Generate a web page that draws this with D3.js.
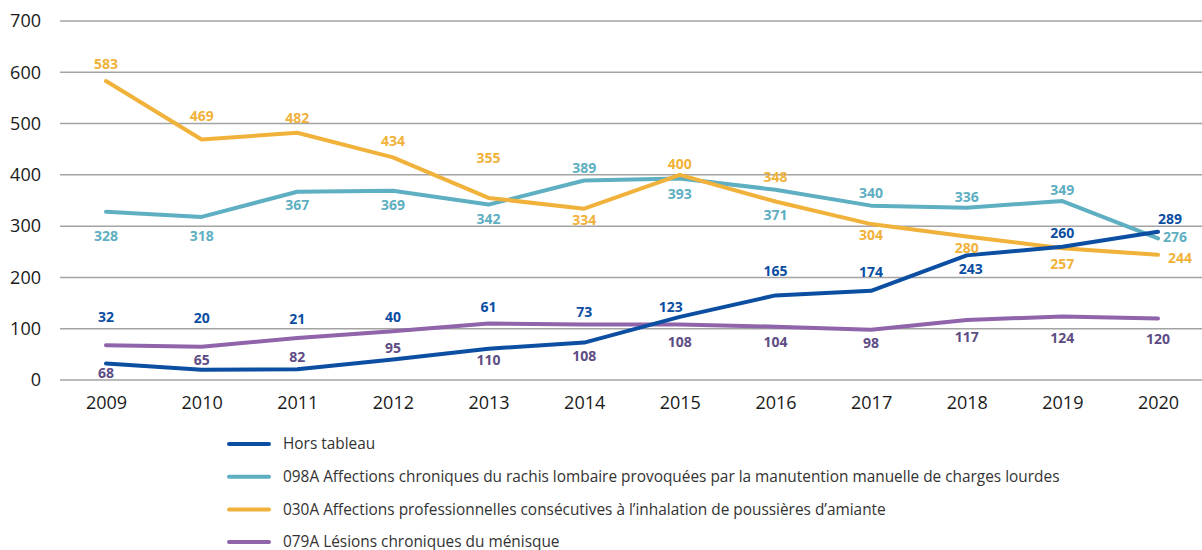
<!DOCTYPE html>
<html>
<head>
<meta charset="utf-8">
<script src="https://cdn.jsdelivr.net/npm/d3@7"></script>
<style>
  body { margin: 0; background: #fff; }
  svg { display: block; font-family: "Open Sans", sans-serif; }
</style>
</head>
<body>
<svg width="1202" height="550"></svg>
<script>
const years = [2009, 2010, 2011, 2012, 2013, 2014, 2015, 2016, 2017, 2018, 2019, 2020];
const yTicks = [0, 100, 200, 300, 400, 500, 600, 700];

const horsTableau = [32, 20, 21, 40, 61, 73, 123, 165, 174, 243, 260, 289];
const rachis098A = [328, 318, 367, 369, 342, 389, 393, 371, 340, 336, 349, 276];
const amiante030A = [583, 469, 482, 434, 355, 334, 400, 348, 304, 280, 257, 244];
const menisque079A = [68, 65, 82, 95, 110, 108, 108, 104, 98, 117, 124, 120];

const seriesNames = [
    "Hors tableau",
    "098A Affections chroniques du rachis lombaire provoquées par la manutention manuelle de charges lourdes",
    "030A Affections professionnelles consécutives à l’inhalation de poussières d’amiante",
    "079A Lésions chroniques du ménisque"
];

// label offsets (px) from each point
const series = [
    { values: horsTableau, color: "#0b4ea2", labelColor: "#0b4ea2",
      dy: [-46, -52, -50, -42, -42, -30, -10, -24, -19, 14, -14, -13],
      dx: [0, 0, 0, 0, 0, 0, -9, 0, 0, 4, 0, 12] },
    { values: rachis098A, color: "#5eafc1", labelColor: "#5eafc1",
      dy: [24, 19, 13, 14, 14, -12, 16, 25, -13, -11, -11, -1],
      dx: [0, 0, 0, 0, 0, 0, 0, 0, 0, 0, 0, 17] },
    { values: amiante030A, color: "#f0b23a", labelColor: "#f0b23a",
      dy: [-17, -23, -15, -16, -40, 11, -11, -24, 11, 12, 16, 3],
      dx: [0, 0, 0, 0, 0, 0, 0, 0, 0, 0, 0, 22] },
    { values: menisque079A, color: "#8f64aa", labelColor: "#5e4d84",
      dy: [28, 13, 19, 17, 37, 31, 17, 15, 13, 17, 22, 21],
      dx: [0, 0, 0, 0, 0, 0, 0, 0, 0, 0, 0, 0] }
];

const svg = d3.select("svg");

const x = d3.scalePoint()
    .domain(years)
    .range([106, 1158]);

const y = d3.scaleLinear()
    .domain([0, 700])
    .range([380, 21]);

// grid
svg.append("g")
    .selectAll("line")
    .data(yTicks)
    .enter().append("line")
        .attr("x1", 60)
        .attr("x2", 1202)
        .attr("y1", d => y(d))
        .attr("y2", d => y(d))
        .attr("stroke", "#a3a3a3")
        .attr("stroke-width", 1.5);

// y axis labels
const yAxis = svg.append("g")
    .attr("transform", "translate(41,0)")
    .call(d3.axisLeft(y).tickValues(yTicks).tickSize(0).tickPadding(0));
yAxis.select(".domain").remove();
yAxis.selectAll("text")
    .attr("font-size", 18)
    .attr("fill", "#1a1a1a")
    .attr("font-family", "Open Sans, sans-serif");

// x axis labels
const xAxis = svg.append("g")
    .attr("transform", "translate(0,396)")
    .call(d3.axisBottom(x).tickSize(0).tickPadding(0).tickFormat(d3.format("d")));
xAxis.select(".domain").remove();
xAxis.selectAll("text")
    .attr("font-size", 18)
    .attr("fill", "#1a1a1a")
    .attr("font-family", "Open Sans, sans-serif");

const line = d3.line()
    .x((d, i) => x(years[i]))
    .y(d => y(d));

// draw order: purple at the bottom, blue on top
const drawOrder = [3, 1, 2, 0];
svg.append("g")
    .selectAll("path")
    .data(drawOrder.map(i => series[i]))
    .enter().append("path")
        .attr("d", d => line(d.values))
        .attr("fill", "none")
        .attr("stroke", d => d.color)
        .attr("stroke-width", 4)
        .attr("stroke-linecap", "round")
        .attr("stroke-linejoin", "round");

// data labels
series.forEach(s => {
    svg.append("g")
        .selectAll("text")
        .data(s.values)
        .enter().append("text")
            .attr("x", (d, i) => x(years[i]) + s.dx[i])
            .attr("y", (d, i) => y(d) + s.dy[i])
            .attr("dy", "0.35em")
            .attr("text-anchor", "middle")
            .attr("font-size", 14)
            .attr("font-weight", 700)
            .attr("fill", s.labelColor)
            .text(d => d);
});

// legend
const legend = svg.append("g")
    .selectAll("g")
    .data(series)
    .enter().append("g")
        .attr("transform", (d, i) => `translate(0,${444 + i * 32.7})`);

legend.append("line")
    .attr("x1", 229)
    .attr("x2", 269)
    .attr("stroke", d => d.color)
    .attr("stroke-width", 4)
    .attr("stroke-linecap", "round");

legend.append("text")
    .attr("x", 283)
    .attr("dy", "0.35em")
    .attr("font-size", 15.4)
    .attr("fill", "#333")
    .text((d, i) => seriesNames[i]);
</script>
</body>
</html>
